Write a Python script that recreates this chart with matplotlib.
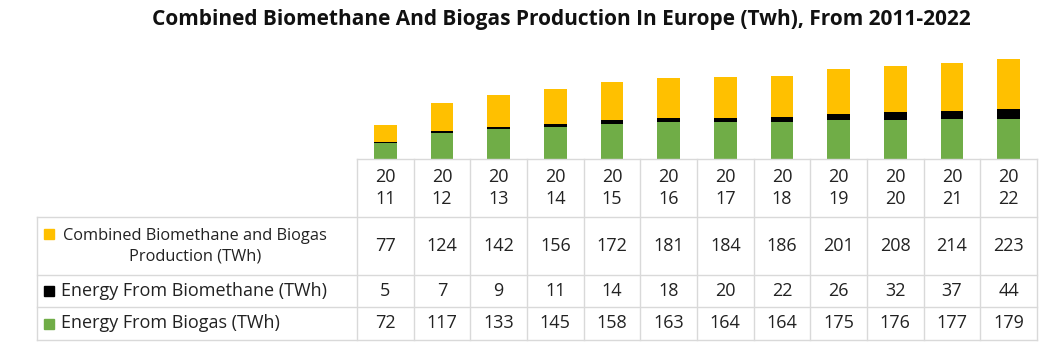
import matplotlib.pyplot as plt

years = ['2011', '2012', '2013', '2014', '2015', '2016', '2017', '2018', '2019', '2020', '2021', '2022']
biogas = [72, 117, 133, 145, 158, 163, 164, 164, 175, 176, 177, 179]
biomethane = [5, 7, 9, 11, 14, 18, 20, 22, 26, 32, 37, 44]
combined = [77, 124, 142, 156, 172, 181, 184, 186, 201, 208, 214, 223]

series_names = ['Combined Biomethane and Biogas\nProduction (TWh)',
                'Energy From Biomethane (TWh)',
                'Energy From Biogas (TWh)']
series_vals = [combined, biomethane, biogas]
colors = ['#FFC000', '#000000', '#70AD47']

W, H = 1053, 353
fig = plt.figure(figsize=(W / 100, H / 100), dpi=100)
plt.rcParams['font.family'] = ['Open Sans', 'DejaVu Sans']

# pixel geometry
x0, x1 = 357, 1037
lx = 37
bar_bottom, bar_top = 159, 47
rows = [159, 217, 275, 307, 340]

# bars
ax = fig.add_axes([x0 / W, 1 - bar_bottom / H, (x1 - x0) / W, (bar_bottom - bar_top) / H])
idx = list(range(len(years)))
ax.bar(idx, biogas, width=0.4, color=colors[2])
bot = [a for a in biogas]
ax.bar(idx, biomethane, width=0.4, bottom=bot, color=colors[1])
bot = [a + b for a, b in zip(biogas, biomethane)]
ax.bar(idx, combined, width=0.4, bottom=bot, color=colors[0])
ax.set_xlim(-0.5, len(years) - 0.5)
ax.set_ylim(0, 500)
ax.axis('off')

# data table
tb = fig.add_axes([0, 0, 1, 1])
tb.set_xlim(0, W)
tb.set_ylim(H, 0)
tb.axis('off')
grid = '#d9d9d9'
cw = (x1 - x0) / len(years)
tb.plot([x0, x1], [rows[0], rows[0]], color=grid, lw=1)
for r in rows[1:]:
    tb.plot([lx, x1], [r, r], color=grid, lw=1)
tb.plot([lx, lx], [rows[1], rows[-1]], color=grid, lw=1)
for i in range(len(years) + 1):
    tb.plot([x0 + i * cw, x0 + i * cw], [rows[0], rows[-1]], color=grid, lw=1)

fs = 13
for i, y in enumerate(years):
    cx = x0 + (i + 0.5) * cw
    tb.text(cx, (rows[0] + rows[1]) / 2, y[:2] + '\n' + y[2:], ha='center', va='center',
            fontsize=fs, linespacing=1.3, color='#222222')
    for j, vals in enumerate(series_vals):
        tb.text(cx, (rows[j + 1] + rows[j + 2]) / 2, str(vals[i]), ha='center', va='center',
                fontsize=fs, color='#222222')

for j, name in enumerate(series_names):
    cy = (rows[j + 1] + rows[j + 2]) / 2
    if '\n' in name:
        ky = cy - 12
        tb.text(195, cy, name, ha='center', va='center', fontsize=11.8,
                linespacing=1.35, color='#222222')
    else:
        ky = cy
        tb.text(61, cy, name, ha='left', va='center', fontsize=fs, color='#222222')
    tb.add_patch(plt.Rectangle((44, ky - 5), 10, 10, color=colors[j]))

fig.text(561 / W, 1 - 19 / H, 'Combined Biomethane And Biogas Production In Europe (Twh), From 2011-2022',
         ha='center', va='center', fontsize=15, fontweight='bold', color='#111111')

fig.savefig('out.png', dpi=100)
